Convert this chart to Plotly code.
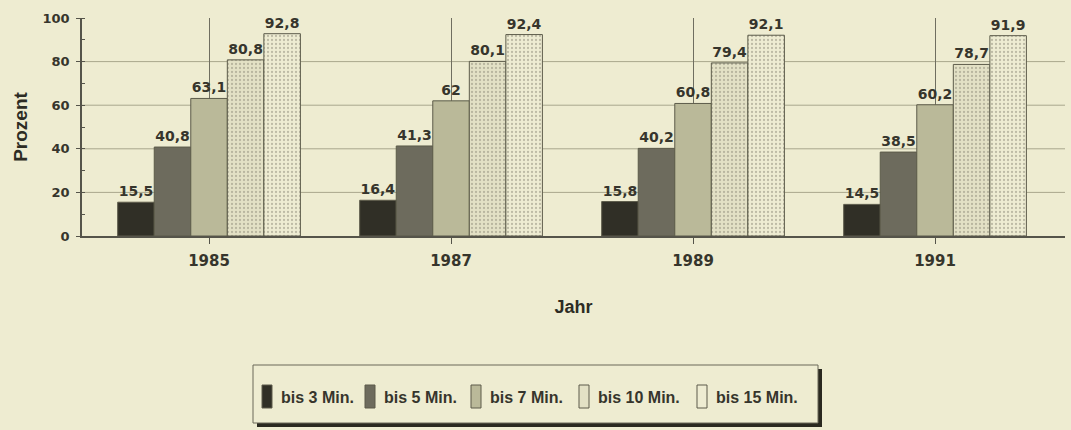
import plotly.graph_objects as go

# Anteil der Befragten nach Wegezeit (kumuliert), je Erhebungsjahr
jahre = ["1985", "1987", "1989", "1991"]
serien = ["bis 3 Min.", "bis 5 Min.", "bis 7 Min.", "bis 10 Min.", "bis 15 Min."]
bis_3 = [15.5, 16.4, 15.8, 14.5]
bis_5 = [40.8, 41.3, 40.2, 38.5]
bis_7 = [63.1, 62, 60.8, 60.2]
bis_10 = [80.8, 80.1, 79.4, 78.7]
bis_15 = [92.8, 92.4, 92.1, 91.9]
y_ticks = [0, 20, 40, 60, 80, 100]
grid_werte = [20, 40, 60, 80]

werte = [bis_3, bis_5, bis_7, bis_10, bis_15]
fuellung = ["#302f26", "#6d6b5d", "#bab999", "#e3e1c5", "#eeecd2"]
muster = ["", "", "", ".", "."]

BG = "#eeecd1"
INK = "#36352c"
NUM_FONT = "DejaVu Sans"
TXT_FONT = "Liberation Sans"

# plot area in pixels: x 82..1065, y 18 (100 %) .. 236 (0 %)
L, R, T, B = 82, 1065, 18, 236


def px_x(p):
    return (p - L) / (R - L)


def px_y(p):
    return (B - p) / (B - T)


fig = go.Figure()
for name, vals, col, pat in zip(serien, werte, fuellung, muster):
    fig.add_trace(go.Bar(
        name=name, x=jahre, y=vals,
        marker=dict(color=col, line=dict(color="#5c5b4a", width=1),
                    pattern=dict(shape=pat, fgcolor="#8c8a78", size=4, solidity=0.25)),
        text=vals, texttemplate="%{y}", textposition="outside",
        textfont=dict(family=NUM_FONT, size=14, color=INK, weight="bold"),
        cliponaxis=False,
    ))

# horizontal grid lines
for g in grid_werte:
    fig.add_shape(type="line", xref="paper", yref="y", x0=0, x1=1, y0=g, y1=g,
                  line=dict(color="#a9a78d", width=1), layer="below")

# legend frame with drop shadow
fig.add_shape(type="rect", xref="paper", yref="paper",
              x0=px_x(257), x1=px_x(822), y0=px_y(427), y1=px_y(369),
              fillcolor="#2a2920", line=dict(width=0), layer="below")
fig.add_shape(type="rect", xref="paper", yref="paper",
              x0=px_x(253), x1=px_x(818), y0=px_y(423), y1=px_y(365),
              fillcolor=BG, line=dict(color="#6a6958", width=1), layer="below")

# legend entries: tall narrow swatch followed by the series name
swatch_x = [262, 365, 471, 579, 697]
for name, col, sx in zip(serien, fuellung, swatch_x):
    fig.add_shape(type="rect", xref="paper", yref="paper",
                  x0=px_x(sx), x1=px_x(sx + 10), y0=px_y(408), y1=px_y(385),
                  fillcolor=col, line=dict(color="#5c5b4a", width=1), layer="above")
    fig.add_annotation(xref="paper", yref="paper", x=px_x(sx + 17), y=px_y(397),
                       xanchor="left", yanchor="middle", showarrow=False, text=name,
                       font=dict(family=TXT_FONT, size=16, color=INK, weight="bold"))

fig.update_layout(
    width=1071, height=430,
    margin=dict(l=L, r=1071 - R, t=T, b=430 - B),
    paper_bgcolor=BG, plot_bgcolor=BG,
    barmode="group", bargap=0.245, bargroupgap=0,
    separators=",.",
    showlegend=False,
    font=dict(family=TXT_FONT, color=INK),
    xaxis=dict(
        range=[-0.525, 3.537], type="category",
        showgrid=True, gridcolor="#6f6e60", gridwidth=1,
        showline=True, linecolor="#55544a", linewidth=1.5,
        ticks="outside", ticklen=6, tickcolor="#55544a",
        ticklabelstandoff=4,
        tickfont=dict(family=NUM_FONT, size=15, color=INK, weight="bold"),
        title=dict(text="Jahr", font=dict(family=TXT_FONT, size=18, color="#2d2c24", weight="bold"),
                   standoff=32),
    ),
    yaxis=dict(
        range=[0, 100], tickvals=y_ticks,
        showgrid=False, zeroline=False,
        showline=True, linecolor="#55544a", linewidth=1.5,
        ticks="outside", ticklen=4, tickcolor="#55544a",
        ticklabelstandoff=4,
        minor=dict(dtick=10, ticks="inside", ticklen=3, tickcolor="#55544a", showgrid=False),
        tickfont=dict(family=NUM_FONT, size=13, color=INK, weight="bold"),
        title=dict(text="Prozent", font=dict(family=TXT_FONT, size=19, color="#2d2c24", weight="bold"),
                   standoff=10),
    ),
)

fig.write_html("out.html")
